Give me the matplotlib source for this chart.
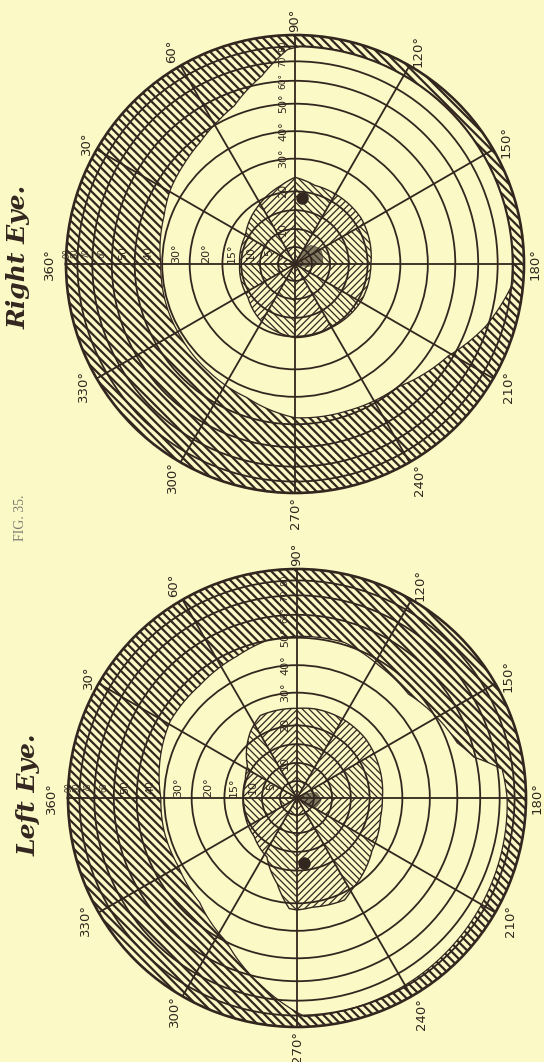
import numpy as np
import matplotlib
matplotlib.use("Agg")
import matplotlib.pyplot as plt
from matplotlib.patches import Polygon
from matplotlib.transforms import offset_copy

BG = "#fbf9c6"
INK = "#33261f"
plt.rcParams['hatch.linewidth'] = 1.6

# perimeter scale: field degrees -> fraction of chart radius (read from ring positions)
ring_deg = [0, 5, 10, 15, 20, 30, 40, 50, 60, 70, 80, 90]
ring_frac = [0.0, 0.074, 0.153, 0.235, 0.317, 0.46, 0.58, 0.70, 0.80, 0.885, 0.95, 1.0]

meridian_deg = [0, 30, 60, 90, 120, 150, 180, 210, 240, 270, 300, 330]
meridian_labels = ["360°", "30°", "60°", "90°", "120°", "150°", "180°",
                   "210°", "240°", "270°", "300°", "330°"]

h_ring_values = [5, 10, 15, 20, 30, 40, 50, 60, 70, 80, 90]
h_ring_labels = ["5", "10", "15°", "20°", "30°", "40", "50", "60", "70", "80", "90"]
v_ring_values = [10, 20, 30, 40, 50, 60, 70, 80, 90]
v_ring_labels = ["10", "20", "30°", "40°", "50°", "60°", "70", "80", "90"]

# ---- Right eye ----
right_field_theta = [0, 20, 31, 42, 52, 62, 69, 80, 88, 92, 120, 150, 180, 185,
                     198, 211, 230, 250, 270, 290, 309, 327, 343]
right_field_r = [40.5, 42.4, 44.5, 46, 47.8, 51, 54, 64, 78, 80.5, 80.5, 80.5, 80.5, 81,
                 69, 58, 50, 48.4, 47.6, 43.3, 41.8, 41, 40.8]
right_center_theta = [0, 30, 58, 80, 90, 104, 119, 145, 180, 209, 240, 270, 300, 325]
right_center_r = [15.4, 15.9, 19, 22.2, 24.3, 22.6, 22.5, 22.4, 21, 21, 20.2, 20.3, 18.4, 16]
right_fix_theta = [110, 130, 150, 175, 190, 200]
right_fix_r = [1, 7, 8.5, 8, 4, 1]
right_blind = (96, 18.4)

# ---- Left eye ----
left_field_theta = [0, 31, 49, 67, 79, 90, 107, 122, 137, 150, 161, 167, 172, 180,
                    210, 240, 268, 281, 296, 313, 330, 346]
left_field_r = [41.2, 45.6, 45.8, 47.7, 50, 50.6, 51, 48.3, 47.1, 50.5, 54, 59.3, 73, 75,
                77, 79, 81, 63.7, 50, 43.6, 41.5, 41.5]
left_center_theta = [0, 20, 33, 55, 66, 90, 102, 120, 139, 158, 180, 193, 215, 239,
                     245, 262, 270, 274, 283, 297, 318, 340]
left_center_r = [15, 15.3, 16.4, 22.6, 25.4, 25.2, 25.6, 25.7, 25.5, 24.7, 23.9, 24,
                 25.8, 30.5, 32.6, 31.8, 32.4, 32, 24.7, 18.3, 16, 15.3]
left_fix_theta = [150, 165, 185, 210, 225]
left_fix_r = [1, 6, 7, 6, 2]
left_blind = (263.5, 18.2)


def fwd(r):
    return np.interp(r, ring_deg, ring_frac)


def inv(f):
    return np.interp(f, ring_frac, ring_deg)


W, H = 544, 1062
fig = plt.figure(figsize=(W / 100, H / 100), dpi=100, facecolor=BG)

label_offsets = [17, 12, 17, 15, 17, 15, 11, 17, 20, 20, 17, 15]
# horizontal ring-label positions as chart-radius fractions (just outside each ring)
h_label_frac = [0.113, 0.194, 0.276, 0.39, 0.52, 0.64, 0.75, 0.842, 0.915, 0.962, 0.995]


def poly(ax, t, r, steps=40, **kw):
    xy = np.column_stack([np.deg2rad(np.asarray(t, float)), np.asarray(r, float)])
    p = Polygon(xy, closed=True, transform=ax.transData, **kw)
    p.get_path()._interpolation_steps = steps
    return p


def make_eye(cx, cy, R, field_t, field_r, cen_t, cen_r, fix_t, fix_r, blind):
    ax = fig.add_axes([(cx - R) / W, (H - cy - R) / H, 2 * R / W, 2 * R / H],
                      projection='polar')
    ax.set_theta_zero_location('W')
    ax.set_theta_direction(-1)
    ax.set_rscale('function', functions=(fwd, inv))
    ax.set_rlim(0, 90)
    ax.set_facecolor(BG)
    ax.set_xticks(np.deg2rad(meridian_deg))
    ax.set_xticklabels([])
    ax.set_yticks(ring_deg[1:-1])
    ax.set_yticklabels([])
    ax.tick_params(length=0)
    ax.grid(True, color=INK, lw=1.3)
    ax.set_axisbelow(False)
    ax.spines['polar'].set_color(INK)
    ax.spines['polar'].set_linewidth(1.9)

    # hatched outer band: hatched disc, then clear field area
    disc = poly(ax, [0, 90, 180, 270, 360], [90] * 5, facecolor='none',
                edgecolor=INK, lw=0, hatch='\\' * 4, zorder=1)
    ax.add_patch(disc)
    ft = list(field_t) + [field_t[0] + 360]
    fr = list(field_r) + [field_r[0]]
    ax.add_patch(poly(ax, ft, fr, facecolor=BG, edgecolor=INK, lw=0.9, zorder=1.2))

    # central hatched region with chevron hatching by sector
    ct = list(cen_t) + [cen_t[0] + 360]
    cr = list(cen_r) + [cen_r[0]]
    for k in range(12):
        t0, t1 = 30 * k, 30 * (k + 1)
        wedge = poly(ax, [t0, t0, t1], [0, 90, 90])
        with plt.rc_context({'hatch.linewidth': 0.9}):
            p = poly(ax, ct, cr, facecolor='none', edgecolor=INK, lw=0,
                     hatch='/' * 5 if k % 2 == 0 else '\\' * 5, zorder=1.5)
        try:
            p.set_hatch_linewidth(0.9)
        except Exception:
            pass
        ax.add_patch(p)
        p.set_clip_path(wedge)
    ax.add_patch(poly(ax, ct, cr, facecolor='none', edgecolor=INK, lw=1.0, zorder=1.6))
    ax.add_patch(poly(ax, fix_t, fix_r, facecolor=INK, edgecolor=INK, lw=0.5,
                      alpha=0.6, zorder=1.7))
    ax.plot([np.deg2rad(blind[0])], [blind[1]], 'o', color=INK, ms=8, zorder=5)

    # meridian labels
    for d, lab, off in zip(meridian_deg, meridian_labels, label_offsets):
        a = np.deg2rad(d)
        tr = offset_copy(ax.transData, fig=fig, x=-off * np.cos(a), y=off * np.sin(a),
                         units='dots')
        ax.text(a, 90, lab, transform=tr, rotation=90, ha='center', va='center',
                fontsize=9.5, color=INK, clip_on=False, family='DejaVu Sans')

    # ring labels along 360 meridian
    trh = offset_copy(ax.transData, fig=fig, x=0, y=11, units='dots')
    for v, lab, fm in zip(h_ring_values, h_ring_labels, h_label_frac):
        ax.text(0, inv(fm), lab, transform=trh, rotation=90, ha='center', va='center',
                fontsize=8 if v < 60 else 5.5, color=INK, zorder=6, family='DejaVu Sans')
    # ring labels along 90 meridian
    trv = offset_copy(ax.transData, fig=fig, x=-12, y=0, units='dots')
    for v, lab in zip(v_ring_values, v_ring_labels):
        if v >= 90:
            continue
        ax.text(np.pi / 2, v, lab, transform=trv, rotation=90, ha='center', va='center',
                fontsize=8 if v < 60 else 6.5, color=INK, zorder=6, family='DejaVu Sans')
    return ax


make_eye(295, 264, 229, right_field_theta, right_field_r, right_center_theta,
         right_center_r, right_fix_theta, right_fix_r, right_blind)
make_eye(297, 798, 229, left_field_theta, left_field_r, left_center_theta,
         left_center_r, left_fix_theta, left_fix_r, left_blind)

fig.text(19 / W, 1 - 257 / H, "Right Eye.", rotation=90, ha='center', va='center',
         fontsize=18, fontweight='bold', fontstyle='italic', family='DejaVu Serif',
         color=INK)
fig.text(29 / W, 1 - 795 / H, "Left Eye.", rotation=90, ha='center', va='center',
         fontsize=18, fontweight='bold', fontstyle='italic', family='DejaVu Serif',
         color=INK)
fig.text(20 / W, 1 - 518 / H, "FIG. 35.", rotation=90, ha='center', va='center',
         fontsize=10, family='Liberation Serif', color='#7d7c70')

fig.savefig("out.png", dpi=100, facecolor=BG)
